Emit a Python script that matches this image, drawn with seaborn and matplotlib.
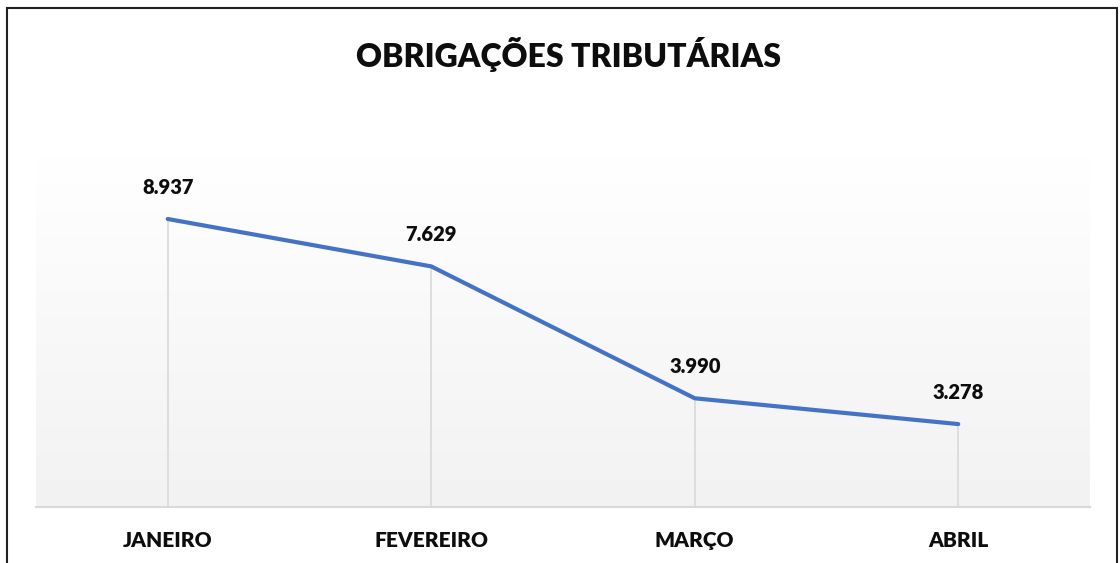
import numpy as np
import pandas as pd
import matplotlib.pyplot as plt
import matplotlib.patches as patches
import seaborn as sns

# --- Data
meses = ["JANEIRO", "FEVEREIRO", "MARÇO", "ABRIL"]
valores = [8937, 7629, 3990, 3278]
titulo = "OBRIGAÇÕES TRIBUTÁRIAS"

df = pd.DataFrame({"mes": meses, "valor": valores})
df["pos"] = np.arange(len(df))

sns.set_style("white")
plt.rcParams["font.family"] = ["Lato", "DejaVu Sans"]

fig = plt.figure(figsize=(11.2, 5.63), dpi=100)
ax = fig.add_axes([36 / 1120, 1 - 507 / 563, 1054 / 1120, 349 / 563])

# gradient background (white on top, light gray at bottom)
grad = np.linspace(1, 0, 256).reshape(-1, 1)
ax.imshow(grad, extent=[0, 1, 0, 1], transform=ax.transAxes, aspect="auto",
          cmap=plt.matplotlib.colors.LinearSegmentedColormap.from_list("g", ["#f2f2f2", "#ffffff"]),
          zorder=0)

ymin, ymax = 990, 10620
ax.vlines(df["pos"], ymin, df["valor"], color="#d9d9d9", lw=1.2, zorder=1)
sns.lineplot(data=df, x="pos", y="valor", sort=False, color="#4472C4", lw=3,
             ax=ax, zorder=3, solid_capstyle="round")

for x, v in zip(df["pos"], df["valor"]):
    ax.annotate(f"{v:,}".replace(",", "."), (x, v), xytext=(0, 16),
                textcoords="offset points", ha="center", va="bottom",
                fontsize=14.5, fontweight="heavy", color="#0d0d0d")

ax.set_xlim(-0.5, len(df) - 0.5)
ax.set_ylim(ymin, ymax)
ax.set_xticks(df["pos"])
ax.set_xticklabels(meses, fontsize=15, fontweight="heavy", color="#0d0d0d")
ax.tick_params(axis="x", length=0, pad=17)
ax.set_yticks([])
ax.set_xlabel("")
ax.set_ylabel("")
for s in ["top", "left", "right"]:
    ax.spines[s].set_visible(False)
ax.spines["bottom"].set_color("#d9d9d9")
ax.spines["bottom"].set_linewidth(1.5)

fig.text(568 / 1120, 1 - 55 / 563, titulo, ha="center", va="center",
         fontsize=23, fontweight="heavy", color="#0d0d0d")

# outer chart border
fig.patches.append(patches.Rectangle((7 / 1120, -0.1), 1110 / 1120, 1.1 - 8 / 563,
                                     transform=fig.transFigure, fill=False,
                                     edgecolor="#222222", lw=1.5))

fig.savefig("out.png", dpi=100)
